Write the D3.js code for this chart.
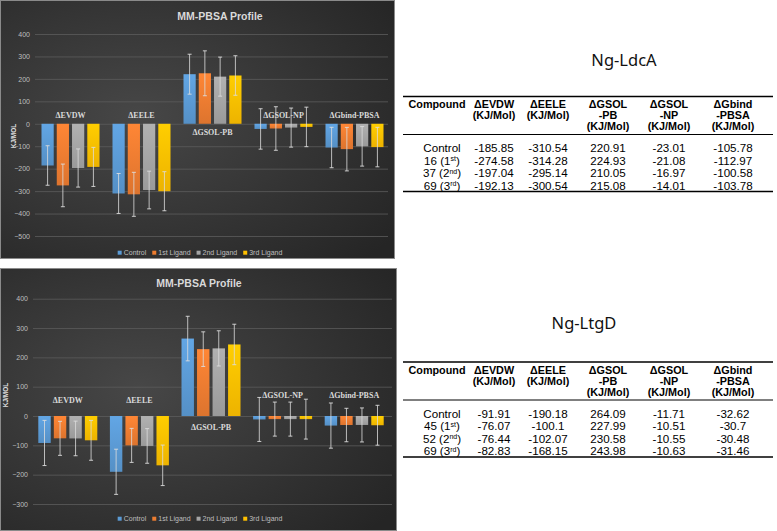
<!DOCTYPE html>
<html><head><meta charset="utf-8">
<script src="https://cdn.jsdelivr.net/npm/d3@7"></script>
<style>body{margin:0;background:#fff;} svg{display:block}</style>
</head><body><svg id="c" width="777" height="531"></svg>
<script>
// ---------- data ----------
const categories = ["ΔEVDW","ΔEELE","ΔGSOL-PB","ΔGSOL-NP","ΔGbind-PBSA"];
const series = ["Control","1st Ligand","2nd Ligand","3rd Ligand"];

// Ng-LdcA (values per series, per category)
const ldcaValues = [
  [-185.85,-310.54,220.91,-23.01,-105.78],
  [-274.58,-314.28,224.93,-21.08,-112.97],
  [-197.04,-295.14,210.05,-16.97,-100.58],
  [-192.13,-300.54,215.08,-14.01,-103.78]
];
const ldcaErrors = [
  [88,89,89,90,90],
  [95,98,100,97,97],
  [85,84,87,87,88],
  [87,87,88,88,88]
];
const ldcaTicks = [400,300,200,100,0,-100,-200,-300,-400,-500];
const ldcaCompounds = [["Control","",""],["16","1","st"],["37","2","nd"],["69","3","rd"]];

// Ng-LtgD
const ltgdValues = [
  [-91.91,-190.18,264.09,-11.71,-32.62],
  [-76.07,-100.1,227.99,-10.51,-30.7],
  [-76.44,-102.07,230.58,-10.55,-30.48],
  [-82.83,-168.15,243.98,-10.63,-31.46]
];
const ltgdErrors = [
  [77,77,76,75,77],
  [58,58,59,58,57],
  [59,59,60,58,58],
  [68,69,69,68,68]
];
const ltgdTicks = [400,300,200,100,0,-100,-200,-300];
const ltgdCompounds = [["Control","",""],["45","1","st"],["52","2","nd"],["69","3","rd"]];

const tableHeaders = [
  ["Compound"],
  ["ΔEVDW","(KJ/Mol)"],
  ["ΔEELE","(KJ/Mol)"],
  ["ΔGSOL","-PB","(KJ/Mol)"],
  ["ΔGSOL","-NP","(KJ/Mol)"],
  ["ΔGbind","-PBSA","(KJ/Mol)"]
];

// ---------- drawing ----------
const svg = d3.select("#c");
const defs = svg.append("defs");
const bg = defs.append("radialGradient").attr("id","bg").attr("cx","35%").attr("cy","45%").attr("r","80%");
bg.append("stop").attr("offset","0%").attr("stop-color","#474747");
bg.append("stop").attr("offset","100%").attr("stop-color","#252525");
const colors = ["#5B9BD5","#ED7D31","#A5A5A5","#FFC000"];
colors.forEach((c,i)=>{
  const g = defs.append("linearGradient").attr("id","bar"+i).attr("x1",0).attr("y1",0).attr("x2",0).attr("y2",1);
  g.append("stop").attr("offset","0%").attr("stop-color", d3.color(c).brighter(0.2));
  g.append("stop").attr("offset","100%").attr("stop-color", d3.color(c).darker(0.2));
});

function drawChart(cfg){
  const g = svg.append("g");
  const p = cfg.panel;
  g.append("rect").attr("x",p.x+0.5).attr("y",p.y+0.5).attr("width",p.w).attr("height",p.h)
    .attr("fill","url(#bg)").attr("stroke","#8a8a8a").attr("stroke-width",1);
  const y = d3.scaleLinear().domain(cfg.domain).range(cfg.yRange);
  const x0 = d3.scaleBand().domain(categories).range(cfg.xRange).paddingInner(cfg.pi).paddingOuter(cfg.pi/2);
  const x1 = d3.scaleBand().domain(series).range([0,x0.bandwidth()]).paddingInner(0.2);

  const axis = d3.axisLeft(y).tickValues(cfg.ticks).tickSize(-(cfg.gridX[1]-cfg.gridX[0])).tickPadding(5);
  const ag = g.append("g").attr("transform",`translate(${cfg.gridX[0]},0)`).call(axis);
  ag.select(".domain").remove();
  ag.selectAll(".tick line").attr("stroke","#5c5c5c").attr("stroke-width",0.8);
  ag.selectAll(".tick text").attr("fill","#bfbfbf").attr("font-family","Liberation Sans Narrow, Liberation Sans, sans-serif").attr("font-size",7);

  g.append("text").attr("x",cfg.titleX).attr("y",cfg.titleY).attr("text-anchor","middle")
    .attr("font-family","Liberation Sans, sans-serif").attr("font-weight","bold").attr("font-size",10.5)
    .attr("fill","#d9d9d9").text("MM-PBSA Profile");
  g.append("text").attr("transform",`translate(${cfg.axisTitle[0]},${cfg.axisTitle[1]}) rotate(-90)`)
    .attr("text-anchor","middle").attr("font-family","Liberation Sans Narrow, Liberation Sans, sans-serif")
    .attr("font-weight","bold").attr("font-size",6.5).attr("fill","#e0e0e0").text("KJ/MOL");

  series.forEach((s,si)=>{
    categories.forEach((c,ci)=>{
      const v = cfg.values[si][ci], e = cfg.errors[si][ci];
      const bx = x0(c)+x1(s), bw = x1.bandwidth();
      g.append("rect").attr("x",bx).attr("width",bw)
        .attr("y",Math.min(y(v),y(0))).attr("height",Math.abs(y(v)-y(0)))
        .attr("fill",`url(#bar${si})`);
      const cx = bx+bw/2, t = y(v+e), b = y(v-e);
      g.append("line").attr("x1",cx).attr("x2",cx).attr("y1",t).attr("y2",b).attr("stroke","#dcdcdc").attr("stroke-width",0.9).attr("opacity",0.9);
      [t,b].forEach(yy=>g.append("line").attr("x1",cx-2).attr("x2",cx+2).attr("y1",yy).attr("y2",yy).attr("stroke","#dcdcdc").attr("stroke-width",0.9));
    });
  });

  categories.forEach((c,ci)=>{
    g.append("text").attr("x",x0(c)+x0.bandwidth()/2).attr("y",y(cfg.labelVals[ci])+3)
      .attr("text-anchor","middle").attr("font-family","Liberation Serif, serif").attr("font-weight","bold")
      .attr("font-size",8).attr("fill","#d9d9d9").text(c);
  });

  const lg = g.append("g");
  let lx = 0;
  series.forEach((s,si)=>{
    lg.append("rect").attr("x",lx).attr("y",cfg.legendY-2).attr("width",4).attr("height",4).attr("fill",colors[si]);
    const t = lg.append("text").attr("x",lx+6).attr("y",cfg.legendY+2.4)
      .attr("font-family","Liberation Sans Narrow, Liberation Sans, sans-serif").attr("font-size",7).attr("fill","#bfbfbf").text(s);
    lx += 6 + t.node().getComputedTextLength() + 6;
  });
  lg.attr("transform",`translate(${cfg.legendCx - (lx-6)/2},0)`);
}

drawChart({
  panel:{x:0,y:0,w:394,h:258}, domain:[-500,400], yRange:[236,34], ticks:ldcaTicks,
  xRange:[35,390], gridX:[35,388], pi:0.183,
  values:ldcaValues, errors:ldcaErrors, titleX:220, titleY:20, axisTitle:[16,136],
  labelVals:[38,38,-38,38,38], legendY:252.7, legendCx:200
});
drawChart({
  panel:{x:0,y:268,w:396,h:262}, domain:[-300,400], yRange:[504,298.7], ticks:ltgdTicks,
  xRange:[32,390], gridX:[33,392], pi:0.176,
  values:ltgdValues, errors:ltgdErrors, titleX:199, titleY:287, axisTitle:[8,395],
  labelVals:[55,55,-38,73,73], legendY:518.7, legendCx:200
});

function drawTable(cfg){
  const g = svg.append("g");
  const cols = [437,494,548,608,669,733];
  const ff = "Liberation Sans, Arial, sans-serif";
  g.append("text").attr("x",cfg.titleX).attr("y",cfg.titleY).attr("text-anchor","middle")
    .attr("font-family","Noto Sans, sans-serif").attr("font-size",16.5).attr("fill","#111").text(cfg.title);
  const top = cfg.top;
  g.append("line").attr("x1",403).attr("x2",773).attr("y1",top).attr("y2",top).attr("stroke","#000").attr("stroke-width",1.5);
  tableHeaders.forEach((lines,ci)=>{
    lines.forEach((ln,li)=>{
      g.append("text").attr("x",cols[ci]).attr("y",top+11.5+li*11).attr("text-anchor","middle")
        .attr("font-family",ff).attr("font-weight","bold").attr("font-size",10.8)
        .attr("fill","#000").text(ln);
    });
  });
  g.append("line").attr("x1",403).attr("x2",773).attr("y1",top+38).attr("y2",top+38).attr("stroke","#000").attr("stroke-width",1);
  cfg.compounds.forEach((cp,ri)=>{
    const yy = top+55.5+ri*12.6;
    const t = g.append("text").attr("x",cols[0]+5).attr("y",yy).attr("text-anchor","middle")
      .attr("font-family",ff).attr("font-size",11.6).attr("fill","#000");
    if(cp[2]){
      t.append("tspan").text(cp[0]+" ("+cp[1]);
      t.append("tspan").attr("font-size",7).attr("dy",-3.5).text(cp[2]);
      t.append("tspan").attr("dy",3.5).text(")");
    } else t.text(cp[0]);
    cfg.values[ri].forEach((v,ci)=>{
      g.append("text").attr("x",cols[ci+1]).attr("y",yy).attr("text-anchor","middle")
        .attr("font-family",ff).attr("font-size",11.6).attr("fill","#000").text(String(v));
    });
  });
  const bot = top+95;
  g.append("line").attr("x1",403).attr("x2",773).attr("y1",bot).attr("y2",bot).attr("stroke","#000").attr("stroke-width",1.5);
}

drawTable({title:"Ng-LdcA", titleX:624, titleY:66, top:96.5, values:ldcaValues, compounds:ldcaCompounds});
drawTable({title:"Ng-LtgD", titleX:584, titleY:329, top:362, values:ltgdValues, compounds:ltgdCompounds});
</script></body></html>
